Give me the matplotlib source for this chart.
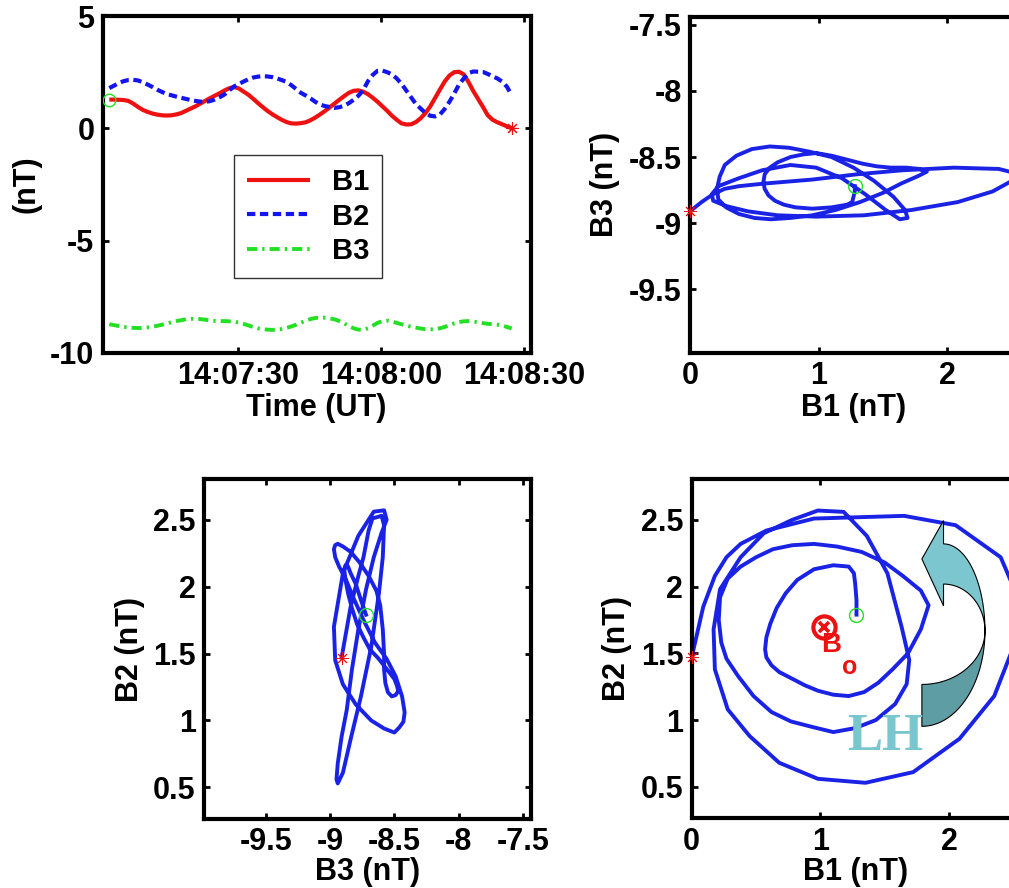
import numpy as np
import matplotlib
matplotlib.use('Agg')
import matplotlib.pyplot as plt
from matplotlib.patches import Polygon

plt.rcParams['font.family'] = ['Liberation Sans', 'DejaVu Sans']
plt.rcParams['font.weight'] = 'bold'
plt.rcParams['axes.labelweight'] = 'bold'

# ---------------- data (seconds after 14:07:00, 1 sample per ~1 s) ----------------
T_START = 3.0
T_STEP = 1.005

B1 = [1.28, 1.28, 1.27, 1.26, 1.22, 1.10, 0.95, 0.82, 0.73, 0.66,
      0.61, 0.58, 0.57, 0.58, 0.62, 0.68, 0.78, 0.88, 0.98, 1.10,
      1.22, 1.34, 1.45, 1.56, 1.68, 1.78, 1.84, 1.78, 1.64, 1.50,
      1.32, 1.13, 0.95, 0.78, 0.63, 0.50, 0.38, 0.28, 0.22, 0.21,
      0.23, 0.27, 0.36, 0.48, 0.62, 0.77, 0.93, 1.10, 1.27, 1.43,
      1.58, 1.67, 1.69, 1.63, 1.52, 1.36, 1.18, 0.98, 0.78, 0.56,
      0.38, 0.22, 0.17, 0.18, 0.28, 0.45, 0.68, 0.98, 1.35, 1.72,
      2.08, 2.35, 2.50, 2.52, 2.40, 2.05, 1.65, 1.30, 0.95, 0.58,
      0.38, 0.27, 0.18, 0.09, 0.00]

B2 = [1.79, 1.90, 2.02, 2.10, 2.15, 2.16, 2.13, 2.05, 1.95, 1.84,
      1.72, 1.62, 1.53, 1.47, 1.41, 1.36, 1.31, 1.26, 1.22, 1.19,
      1.18, 1.21, 1.28, 1.38, 1.50, 1.68, 1.86, 1.97, 2.08, 2.18,
      2.26, 2.30, 2.32, 2.31, 2.28, 2.22, 2.15, 2.06, 1.92, 1.75,
      1.58, 1.46, 1.33, 1.18, 1.06, 0.99, 0.95, 0.91, 0.94, 1.00,
      1.12, 1.27, 1.45, 1.70, 2.10, 2.38, 2.56, 2.57, 2.50, 2.40,
      2.22, 1.98, 1.68, 1.38, 1.08, 0.88, 0.68, 0.56, 0.53, 0.61,
      0.86, 1.18, 1.55, 1.95, 2.22, 2.46, 2.53, 2.52, 2.51, 2.42,
      2.32, 2.22, 2.08, 1.85, 1.47]

B3 = [-8.72, -8.76, -8.80, -8.84, -8.86, -8.88, -8.89, -8.88, -8.86, -8.83,
      -8.79, -8.74, -8.69, -8.63, -8.58, -8.54, -8.50, -8.48, -8.47, -8.49,
      -8.52, -8.55, -8.57, -8.58, -8.58, -8.59, -8.61, -8.64, -8.70, -8.77,
      -8.84, -8.90, -8.94, -8.96, -8.97, -8.96, -8.93, -8.88, -8.82, -8.74,
      -8.65, -8.56, -8.49, -8.44, -8.42, -8.43, -8.46, -8.50, -8.58, -8.68,
      -8.80, -8.90, -8.96, -8.97, -8.90, -8.78, -8.66, -8.58, -8.56, -8.60,
      -8.66, -8.72, -8.78, -8.83, -8.87, -8.91, -8.94, -8.95, -8.94, -8.90,
      -8.84, -8.76, -8.68, -8.62, -8.59, -8.58, -8.60, -8.63, -8.67, -8.70,
      -8.72, -8.74, -8.78, -8.84, -8.91]

SERIES_NAMES = ['B1', 'B2', 'B3']
TIME_TICKS = [30, 60, 90]
TIME_LABELS = ['14:07:30', '14:08:00', '14:08:30']

b1 = np.array(B1); b2 = np.array(B2); b3 = np.array(B3)
t = T_START + T_STEP * np.arange(len(b1))

# ---------------- style ----------------
RED = '#ee1111'
BLUE = '#1414ee'
GREEN = '#22e022'
HODO_BLUE = '#1a22e6'
FS = 22

fig = plt.figure(figsize=(10.09, 8.88), dpi=100)
W, H = 1009.0, 888.0

def px_axes(left, top, right, bottom):
    return fig.add_axes([left / W, 1 - bottom / H, (right - left) / W, (bottom - top) / H])

def style(ax):
    for s in ax.spines.values():
        s.set_linewidth(3.0)
    ax.tick_params(direction='in', length=4, width=2, top=True, right=True,
                   labelsize=FS, pad=6)
    for lab in ax.get_xticklabels() + ax.get_yticklabels():
        lab.set_fontweight('bold')

def fmt(v):
    return '%g' % v

# ---------------- top-left: time series ----------------
ax1 = px_axes(102.7, 16, 530.5, 353)
dash_b2 = (2.0, 1.1)
dashdot_b3 = (2.6, 1.3, 0.6, 1.3)
l1, = ax1.plot(t, b1, color=RED, lw=3.0, solid_capstyle='butt')
l2, = ax1.plot(t, b2, color=BLUE, lw=3.0, dashes=dash_b2)
l3, = ax1.plot(t, b3, color=GREEN, lw=2.8, dashes=dashdot_b3)
ax1.plot(t[0], b1[0], 'o', mfc='none', mec=GREEN, ms=9, mew=1.0, zorder=5)
ax1.plot(t[-1], b1[-1], marker=(8, 2, 0), color=RED, ms=9, mew=0.8, zorder=5)
ax1.set_xlim(1.62, 91.36)
ax1.set_ylim(-10, 5)
ax1.set_xticks(TIME_TICKS)
ax1.set_xticklabels(TIME_LABELS)
ax1.set_yticks([-10, -5, 0, 5])
ax1.set_yticklabels([fmt(v) for v in [-10, -5, 0, 5]])
ax1.set_xlabel('Time (UT)', fontsize=FS, fontweight='bold', labelpad=1)
ax1.set_ylabel('(nT)', fontsize=FS, fontweight='bold', labelpad=6)
style(ax1)
leg = ax1.legend([l1, l2, l3], SERIES_NAMES, loc='upper left',
                 bbox_to_anchor=(0.307, 0.5875), borderaxespad=0,
                 fontsize=21, frameon=True, fancybox=False, framealpha=1,
                 edgecolor='#333333', handlelength=2.15, handletextpad=0.75,
                 labelspacing=0.22, borderpad=0.45)
leg.get_frame().set_linewidth(1.0)
for txt in leg.get_texts():
    txt.set_fontweight('bold')

# ---------------- hodogram helper ----------------
HODO_RANGE = 2.54

def hodogram(ax, x, y):
    ax.plot(x, y, color=HODO_BLUE, lw=2.8, solid_joinstyle='round')
    ax.plot(x[0], y[0], 'o', mfc='none', mec=GREEN, ms=10, mew=1.0, zorder=5)
    ax.plot(x[-1], y[-1], marker=(8, 2, 0), color=RED, ms=9, mew=0.7, zorder=5,
            clip_on=False)
    style(ax)

# ---------------- top-right: B3 vs B1 ----------------
ax2 = px_axes(690, 16.7, 690 + 327, 353)
hodogram(ax2, b1, b3)
ax2.set_xlim(0, HODO_RANGE)
ax2.set_ylim(-9.98, -9.98 + HODO_RANGE)
ax2.set_xticks([0, 1, 2])
ax2.set_xticklabels([fmt(v) for v in [0, 1, 2]])
ax2.set_yticks([-9.5, -9, -8.5, -8, -7.5])
ax2.set_yticklabels([fmt(v) for v in [-9.5, -9, -8.5, -8, -7.5]])
ax2.set_xlabel('B1 (nT)', fontsize=FS, fontweight='bold', labelpad=1)
ax2.set_ylabel('B3 (nT)', fontsize=FS, fontweight='bold', labelpad=6)

# ---------------- bottom-left: B2 vs B3 ----------------
ax3 = px_axes(204, 479, 530.7, 819)
hodogram(ax3, b3, b2)
ax3.set_xlim(-9.98, -9.98 + HODO_RANGE)
ax3.set_ylim(0.264, 0.264 + HODO_RANGE)
ax3.set_xticks([-9.5, -9, -8.5, -8, -7.5])
ax3.set_xticklabels([fmt(v) for v in [-9.5, -9, -8.5, -8, -7.5]])
ax3.set_yticks([0.5, 1, 1.5, 2, 2.5])
ax3.set_yticklabels([fmt(v) for v in [0.5, 1, 1.5, 2, 2.5]])
ax3.set_xlabel('B3 (nT)', fontsize=FS, fontweight='bold', labelpad=0)
ax3.set_ylabel('B2 (nT)', fontsize=FS, fontweight='bold', labelpad=6)

# ---------------- bottom-right: B2 vs B1 ----------------
ax4 = px_axes(691.7, 479.3, 691.7 + 327, 818.3)
hodogram(ax4, b1, b2)
ax4.set_xlim(0, HODO_RANGE)
ax4.set_ylim(0.264, 0.264 + HODO_RANGE)
ax4.set_xticks([0, 1, 2])
ax4.set_xticklabels([fmt(v) for v in [0, 1, 2]])
ax4.set_yticks([0.5, 1, 1.5, 2, 2.5])
ax4.set_yticklabels([fmt(v) for v in [0.5, 1, 1.5, 2, 2.5]])
ax4.set_xlabel('B1 (nT)', fontsize=FS, fontweight='bold', labelpad=0)
ax4.set_ylabel('B2 (nT)', fontsize=FS, fontweight='bold', labelpad=6)

# background field direction marker and label
ax4.plot(1.028, 1.697, 'o', mfc='none', mec=RED, ms=16, mew=3.0, zorder=6)
ax4.plot(1.028, 1.697, 'x', color=RED, ms=7.5, mew=2.6, zorder=6)
ax4.text(1.081, 1.56, 'B', color=RED, fontsize=20, fontweight='bold',
         ha='center', va='center', zorder=6)
ax4.text(1.225, 1.40, 'o', color=RED, fontsize=18, fontweight='bold',
         ha='center', va='center', zorder=6)

# curved arrow (annotation shape)
def arc(cx, cy, a, b, th0, th1, n=40):
    th = np.radians(np.linspace(th0, th1, n))
    return np.column_stack([cx + a * np.cos(th), cy + b * np.sin(th)])

upper = np.vstack([
    [[1.956, 2.495], [1.956, 2.320]],
    arc(1.956, 1.668, 0.322, 0.652, 90, 0),
    arc(1.956, 1.668, 0.322, 0.351, 0, 90),
    [[1.956, 1.856], [1.788, 2.207]],
])
lower = np.vstack([
    arc(1.788, 1.668, 0.490, 0.715, 0, -90),
    arc(1.788, 1.668, 0.490, 0.401, -90, 0),
])
ax4.add_patch(Polygon(lower, closed=True, facecolor='#5f9da4', edgecolor='black',
                      lw=0.8, zorder=4))
ax4.add_patch(Polygon(upper, closed=True, facecolor='#7cc6d0', edgecolor='black',
                      lw=0.8, zorder=4))
ax4.text(1.50, 0.87, 'LH', color='#7ac6cf', fontsize=38, fontweight='bold',
         family=['Liberation Serif', 'DejaVu Serif'], ha='center', va='center',
         zorder=5)

fig.savefig('out.png', dpi=100, facecolor='white')
